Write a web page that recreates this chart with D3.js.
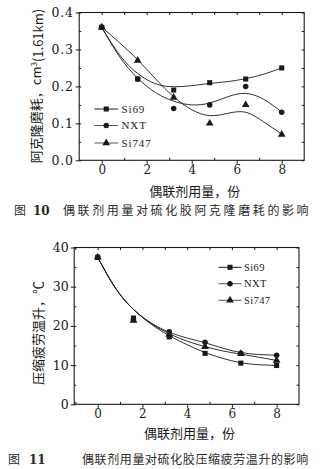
<!DOCTYPE html>
<html><head><meta charset="utf-8">
<script src="https://cdn.jsdelivr.net/npm/d3@7"></script>
<style>body{margin:0;background:#fff}svg{display:block}</style>
</head><body>
<svg id="c" width="329" height="469"></svg>
<script>
// ---- data ----
const xCats = [0, 1.6, 3.2, 4.8, 6.4, 8];
const seriesNames = ["Si69", "NXT", "Si747"];
// Fig 10 : Akron abrasion, cm3/1.61km
const abrSi69  = [0.36, 0.22, 0.19, 0.21, 0.22, 0.25];
const abrNXT   = [0.36, 0.22, 0.14, 0.15, 0.20, 0.13];
const abrSi747 = [0.36, 0.27, 0.17, 0.10, 0.15, 0.07];
// fitted curves
const fitX = [0, 0.8, 1.6, 2.4, 3.2, 4.0, 4.8, 5.6, 6.4, 7.2, 8];
const abrFitSi69  = [0.36, 0.285, 0.235, 0.207, 0.199, 0.202, 0.208, 0.213, 0.221, 0.233, 0.25];
const abrFitNXT   = [0.36, 0.280, 0.222, 0.183, 0.160, 0.150, 0.155, 0.172, 0.181, 0.165, 0.131];
const abrFitSi747 = [0.36, 0.318, 0.272, 0.220, 0.172, 0.137, 0.121, 0.127, 0.130, 0.104, 0.071];
// Fig 11 : compression fatigue temperature rise, °C
const tSi69  = [37.5, 22.0, 17.2, 13.0, 10.5, 9.9];
const tNXT   = [37.5, 21.6, 18.5, 15.8, 13.0, 12.5];
const tSi747 = [37.5, 21.4, 17.8, 14.7, 12.9, 11.2];
const tFitSi69  = [37.5, 29.6, 24.2, 20.4, 17.5, 15.2, 13.2, 11.7, 10.6, 10.1, 9.9];
const tFitNXT   = [37.5, 29.6, 24.2, 20.7, 18.4, 16.9, 15.7, 14.3, 13.2, 12.7, 12.5];
const tFitSi747 = [37.5, 29.6, 24.2, 20.6, 18.0, 16.1, 14.7, 13.6, 12.8, 12.0, 11.2];
const xTicks = [0, 2, 4, 6, 8];
const abrTicks = [0, 0.1, 0.2, 0.3, 0.4];
const tTicks = [0, 10, 20, 30, 40];

const svg = d3.select("#c");
const ink = "#1a1a1a";
const sym = {Si69: d3.symbolSquare, NXT: d3.symbolCircle, Si747: d3.symbolTriangle};
const symSize = {Si69: 26, NXT: 24, Si747: 26};

function chart(o) {
  const g = svg.append("g");
  const x = d3.scaleLinear().domain(o.xd).range([o.l, o.r]);
  const y = d3.scaleLinear().domain(o.yd).range([o.b, o.t]);
  g.append("rect").attr("x", o.l).attr("y", o.t).attr("width", o.r - o.l).attr("height", o.b - o.t)
    .attr("fill", "none").attr("stroke", ink).attr("stroke-width", 1.1);
  const minorX = d3.range(-1, 10, 1).filter(v => v > o.xd[0] && v < o.xd[1]);
  const minorY = d3.range(0, o.yd[1] + 1e-9, o.yd[1] / 8);
  g.append("g").attr("transform", `translate(0,${o.b})`)
    .call(d3.axisBottom(x).tickValues(xTicks).tickSize(3.5).tickPadding(2).tickFormat(d3.format("d")))
    .call(a => { a.select(".domain").remove(); a.selectAll("line").attr("stroke", ink);
      a.selectAll("text").attr("font-family", "DejaVu Serif").attr("font-size", 12).attr("fill", ink); });
  g.append("g").attr("transform", `translate(0,${o.b})`)
    .call(d3.axisBottom(x).tickValues(minorX.filter(v => xTicks.indexOf(v) < 0)).tickSize(-2.5).tickFormat(""))
    .call(a => { a.select(".domain").remove(); a.selectAll("line").attr("stroke", ink); });
  g.append("g").attr("transform", `translate(0,${o.t})`)
    .call(d3.axisTop(x).tickValues(minorX).tickSize(-2.5).tickFormat(""))
    .call(a => { a.select(".domain").remove(); a.selectAll("line").attr("stroke", ink); });
  g.append("g").attr("transform", `translate(${o.l},0)`)
    .call(d3.axisLeft(y).tickValues(o.yTicks).tickSize(3.5).tickPadding(2).tickFormat(o.yfmt))
    .call(a => { a.select(".domain").remove(); a.selectAll("line").attr("stroke", ink);
      a.selectAll("text").attr("font-family", "DejaVu Serif").attr("font-size", 12.5)
        .attr("letter-spacing", o.ls).attr("fill", ink); });
  g.append("g").attr("transform", `translate(${o.l},0)`)
    .call(d3.axisLeft(y).tickValues(minorY).tickSize(-2).tickFormat(""))
    .call(a => { a.select(".domain").remove(); a.selectAll("line").attr("stroke", ink); });
  g.append("g").attr("transform", `translate(${o.r},0)`)
    .call(d3.axisRight(y).tickValues(minorY).tickSize(-2.5).tickFormat(""))
    .call(a => { a.select(".domain").remove(); a.selectAll("line").attr("stroke", ink); });

  const line = d3.line().x(d => x(d[0])).y(d => y(d[1])).curve(d3.curveNatural);
  o.fits.forEach(f => {
    g.append("path").attr("d", line(fitX.map((v, i) => [v, f[i]])))
      .attr("fill", "none").attr("stroke", ink).attr("stroke-width", 0.9);
  });
  [2, 1, 0].forEach(si => {
    const n = seriesNames[si];
    g.append("g").selectAll("path").data(o.vals[si].map((v, i) => [xCats[i], v])).join("path")
      .attr("transform", d => `translate(${x(d[0])},${y(d[1])})`)
      .attr("d", d3.symbol(sym[n], symSize[n])).attr("fill", ink);
  });
  seriesNames.forEach((n, i) => {
    const ly = o.leg.y[i];
    g.append("line").attr("x1", o.leg.x1).attr("x2", o.leg.x2).attr("y1", ly).attr("y2", ly)
      .attr("stroke", i === 0 ? ink : "#555").attr("stroke-width", 1);
    g.append("path").attr("transform", `translate(${(o.leg.x1 + o.leg.x2) / 2},${ly})`)
      .attr("d", d3.symbol(sym[n], symSize[n])).attr("fill", ink);
    g.append("text").attr("x", o.leg.tx).attr("y", ly).attr("dy", "0.35em")
      .attr("font-family", "Liberation Serif").attr("font-size", o.leg.fs).attr("letter-spacing", o.leg.ls)
      .attr("fill", ink).text(n);
  });
  g.append("text").attr("x", (o.l + o.r) / 2 + 3).attr("y", o.xlY).attr("dy", "0.35em").attr("text-anchor", "middle")
    .attr("font-family", "Noto Sans CJK SC").attr("font-size", 13).attr("fill", ink).text("偶联剂用量，份");
  g.append("text").attr("transform", `translate(${o.ylX},${o.ylY}) rotate(-90)`).attr("text-anchor", "middle")
    .attr("dy", "0.35em").attr("font-family", "Noto Sans CJK SC").attr("font-size", 13).attr("fill", ink)
    .call(t => o.ylab(t));
  const cap = g.append("g").attr("fill", "#2a2a2a").attr("font-family", "Noto Sans CJK SC").attr("font-size", 12);
  cap.append("text").attr("x", o.cap.x0).attr("y", o.cap.y).attr("dy", "0.35em").text("图");
  cap.append("text").attr("x", o.cap.x1).attr("y", o.cap.y).attr("dy", "0.35em").attr("font-weight", "bold")
    .attr("font-family", "DejaVu Serif").text(o.cap.num);
  cap.append("text").attr("x", o.cap.x2).attr("y", o.cap.y).attr("dy", "0.35em")
    .attr("letter-spacing", o.cap.ls).text(o.cap.text);
}

chart({
  l: 79.2, r: 304.2, t: 12.5, b: 160.3, xd: [-1, 9], yd: [0, 0.4],
  yTicks: abrTicks, yfmt: d3.format(".1f"), ls: 0.8,
  vals: [abrSi69, abrNXT, abrSi747], fits: [abrFitSi69, abrFitNXT, abrFitSi747],
  leg: {x1: 94.5, x2: 118, tx: 121.5, y: [109, 125.5, 143], fs: 11, ls: 0.9},
  xlY: 191, ylX: 36, ylY: 86,
  ylab: t => { t.append("tspan").text("阿克隆磨耗，cm");
    t.append("tspan").attr("font-size", 8).attr("dy", "-0.5em").text("3");
    t.append("tspan").attr("dy", "0.5em").text("(1.61km)"); },
  cap: {y: 211, x0: 14, x1: 33, x2: 63, num: "10", ls: 2.6,
    text: "偶联剂用量对硫化胶阿克隆磨耗的影响"}
});
chart({
  l: 74.2, r: 299, t: 247.5, b: 404.3, xd: [-1.05, 9], yd: [0, 40],
  yTicks: tTicks, yfmt: d3.format("d"), ls: 0,
  vals: [tSi69, tNXT, tSi747], fits: [tFitSi69, tFitNXT, tFitSi747],
  leg: {x1: 218.5, x2: 241.5, tx: 244, y: [267.3, 283.7, 300.3], fs: 10.5, ls: 0.4},
  xlY: 433, ylX: 38, ylY: 333,
  ylab: t => t.text("压缩疲劳温升，℃"),
  cap: {y: 460, x0: 8, x1: 29, x2: 82, num: "11", ls: 0.6,
    text: "偶联剂用量对硫化胶压缩疲劳温升的影响"}
});
</script>
</body></html>
